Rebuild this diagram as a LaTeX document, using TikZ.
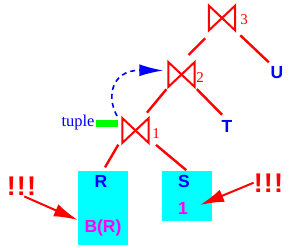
\documentclass[tikz,border=0pt]{standalone}
\usepackage{fontspec}
\setmainfont{Liberation Serif}
\newfontfamily\lsans{Liberation Sans}
\usetikzlibrary{calc,arrows.meta}
\definecolor{cyanbox}{RGB}{0,255,255}
\definecolor{grn}{RGB}{0,255,0}
\definecolor{mag}{RGB}{255,0,255}
\begin{document}
\begin{tikzpicture}[x=1pt,y=-1pt,
  joinnode/.style={minimum width=26pt,minimum height=24.5pt,inner sep=0pt},
  bowtie/.style={red,line width=2pt,line join=miter},
  edge/.style={red,line width=2.4pt},
  rel/.style={text=blue,font=\lsans\bfseries\fontsize{17.5}{17.5}\selectfont,inner sep=0pt,anchor=base},
  val/.style={text=mag,font=\lsans\bfseries\fontsize{17.5}{17.5}\selectfont,inner sep=0pt,anchor=base},
  num/.style={text=red,font=\fontsize{15}{15}\selectfont,inner sep=0pt,anchor=base},
  bang/.style={text=red,font=\lsans\bfseries\fontsize{27}{27}\selectfont,inner sep=0pt,anchor=base},
  relbox/.style={fill=cyanbox,minimum width=50pt,inner sep=0pt},
  warn/.style={red,line width=2pt,-{Latex[length=24pt,width=13pt]}}
]
\useasboundingbox (0,0) rectangle (300,247);
% boxes
\node[relbox,minimum height=74pt] (rbox) at (103,208) {};
\node[relbox,minimum height=50pt] (sbox) at (187,196) {};
% joins
\node[joinnode] (j3) at (222,18) {};
\node[joinnode] (j2) at (181.5,74.5) {};
\node[joinnode] (j1) at (135.5,130.5) {};
\foreach \j in {j1,j2,j3}
  \draw[bowtie] (\j.north west)--(\j.south east)--(\j.north east)--(\j.south west)--cycle;
\node[num] (n3) at (244,24) {3};
\node[num] (n2) at (200,82) {2};
\node[num] (n1) at (156,138) {1};
% relation labels
\node[rel] (U) at (277,78) {U};
\node[rel] (T) at (227,132) {T};
\node[rel] (R) at (101,187) {R};
\node[rel] (S) at (184,187) {S};
\node[val] (BR) at (103,232) {B(R)};
\node[val] (one) at (183,214) {1};
% edges
\draw[edge,shorten <=11pt,shorten >=10pt] ($(j3.south)+(-9,0)$) -- (j2.north);
\draw[edge,shorten <=7pt,shorten >=5pt] (j3.south east) -- ($(U.north west)+(2,0)$);
\draw[edge,shorten <=3pt,shorten >=7pt] (j2.south west) -- ($(j1.north)+(7,0)$);
\draw[edge,shorten <=3pt,shorten >=7pt] (j2.south east) -- (T.north);
\draw[edge,shorten <=2pt,shorten >=4pt] ($(j1.south west)+(-3,0)$) -- (rbox.north);
\draw[edge,shorten <=3pt,shorten >=1pt] ($(j1.south east)+(5,0)$) -- (sbox.north);
% tuple
\node[text=blue,font=\fontsize{16.5}{16.5}\selectfont,inner sep=0pt,anchor=base] (tup) at (78,126) {tuple};
\node[fill=grn,minimum width=22pt,minimum height=7pt,inner sep=0pt] (g) at (107,123.5) {};
\coordinate (cs) at (117,116);
\draw[blue,line width=1.6pt,dash pattern=on 5pt off 4pt,-{Latex[length=24pt,width=12pt]}]
  (cs) .. controls (106,96) and (112,70) .. ($(j2.west)+(-5,-4)$);
% warnings
\node[bang] (b1) at (21.5,195) {!\kern1.2pt!\kern1.2pt!};
\node[bang] (b2) at (268.5,192) {!\kern1.2pt!\kern1.2pt!};
\draw[warn,shorten <=3pt] (b1.south) -- ($(rbox.west)+(0,12)$);
\draw[warn] (b2.west) -- ($(one.east)+(12,-3)$);
\end{tikzpicture}
\end{document}
